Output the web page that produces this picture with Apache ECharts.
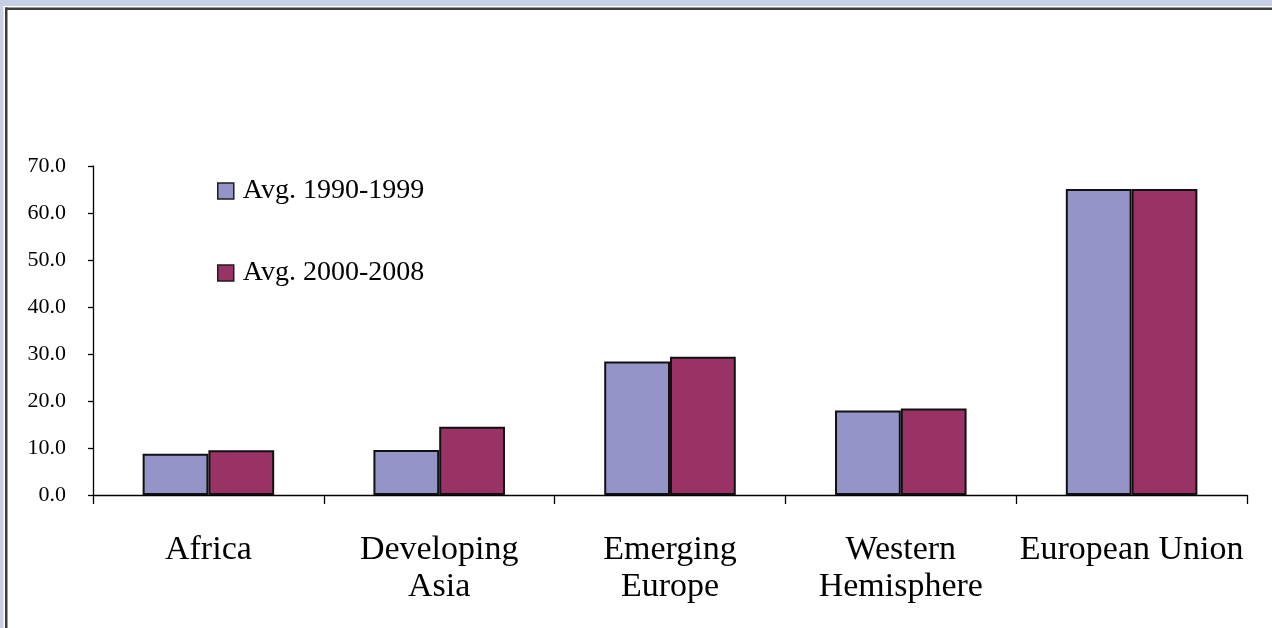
<!DOCTYPE html>
<html>
<head>
<meta charset="utf-8">
<script src="https://cdn.jsdelivr.net/npm/echarts@6/dist/echarts.min.js"></script>
<style>
html,body{margin:0;padding:0;background:#fff;}
#c{width:1272px;height:628px;}
</style>
</head>
<body>
<div id="c"></div>
<script>
const categories = ['Africa', 'Developing\nAsia', 'Emerging\nEurope', 'Western\nHemisphere', 'European Union'];
const seriesNames = ['Avg. 1990-1999', 'Avg. 2000-2008'];
const avg1990s = [8.8, 9.6, 28.4, 18.0, 65.1];
const avg2000s = [9.5, 14.5, 29.4, 18.4, 65.1];
const yTicks = [0, 10, 20, 30, 40, 50, 60, 70];

const serif = '"Liberation Serif", "Times New Roman", serif';
const chart = echarts.init(document.getElementById('c'), null, {renderer: 'canvas'});
chart.setOption({
  backgroundColor: '#ffffff',
  animation: false,
  graphic: [
    {type: 'rect', shape: {x: 0, y: 0, width: 1272, height: 6}, style: {fill: '#c6cfe4'}, silent: true},
    {type: 'rect', shape: {x: 0, y: 0, width: 3.5, height: 628}, style: {fill: '#c6cfe4'}, silent: true},
    {type: 'rect', shape: {x: 5, y: 7.5, width: 1267, height: 2.5}, style: {fill: '#3c3c3c'}, silent: true},
    {type: 'rect', shape: {x: 5, y: 7.5, width: 2.5, height: 620.5}, style: {fill: '#3c3c3c'}, silent: true}
  ],
  grid: {left: 93, right: 25, top: 166, bottom: 133, containLabel: false},
  legend: {
    orient: 'vertical',
    left: 217,
    top: 177,
    padding: 0,
    itemWidth: 16,
    itemHeight: 16,
    itemGap: 54,
    icon: 'rect',
    selectedMode: false,
    itemStyle: {borderColor: '#1e1e1e', borderWidth: 1.5},
    textStyle: {fontFamily: serif, fontSize: 28, color: '#000', padding: [0, 0, 0, 4]},
    data: seriesNames
  },
  xAxis: {
    type: 'category',
    data: categories,
    boundaryGap: true,
    axisLine: {lineStyle: {color: '#000', width: 1.3}},
    axisTick: {show: true, length: 9, alignWithLabel: false, lineStyle: {color: '#000', width: 1.3}},
    axisLabel: {fontFamily: serif, fontSize: 34, color: '#000', lineHeight: 37, margin: 37, interval: 0}
  },
  yAxis: {
    type: 'value',
    min: 0, max: 70, interval: 10,
    splitLine: {show: false},
    axisLine: {show: true, lineStyle: {color: '#000', width: 1.3}},
    axisTick: {show: true, length: 5, lineStyle: {color: '#000', width: 1.3}},
    axisLabel: {fontFamily: serif, fontSize: 22, color: '#000', margin: 27,
      formatter: v => yTicks.includes(v) ? v.toFixed(1) : ''}
  },
  series: [
    {name: seriesNames[0], type: 'bar', data: avg1990s, barGap: '0%', barCategoryGap: '43%',
     itemStyle: {color: '#9494c8', borderColor: '#111', borderWidth: 2}},
    {name: seriesNames[1], type: 'bar', data: avg2000s, barGap: '0%', barCategoryGap: '43%',
     itemStyle: {color: '#993366', borderColor: '#111', borderWidth: 2}}
  ]
});
</script>
</body>
</html>
